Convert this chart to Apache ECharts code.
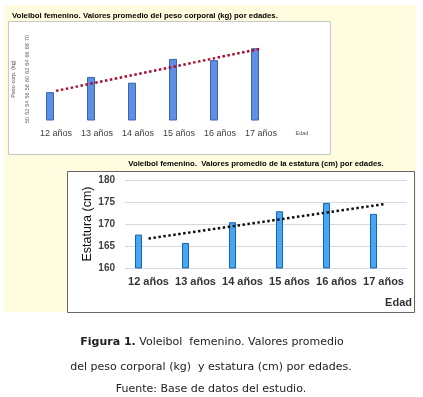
<!DOCTYPE html>
<html lang="es">
<head>
    <meta charset="UTF-8">
    <title>Voleibol femenino</title>
    <script src="https://cdn.jsdelivr.net/npm/echarts/dist/echarts.min.js"></script>
    <style>
        html, body { margin: 0; padding: 0; background: #fff; }
        #main { width: 423px; height: 397px; }
    </style>
</head>
<body>
    <div id="main"></div>

    <script>
        var chart = echarts.init(document.getElementById('main'));

        // categorias (edad)
        var edades = ['12 años', '13 años', '14 años', '15 años', '16 años', '17 años'];

        // peso corporal promedio (kg)
        var peso = [56.8, 60.5, 59.1, 64.9, 64.6, 67.5];
        // linea de tendencia: inicio y fin
        var pesoTendencia = [57.1, '-', '-', '-', '-', 67.4];

        // estatura promedio (cm)
        var estatura = [167.6, 165.7, 170.4, 172.9, 174.8, 172.3];
        var estaturaTendencia = [166.7, '-', '-', '-', '-', 174.5];

        var vacio = ['-', '-', '-', '-', '-', '-'];

        var option = {
            animation: false,
            textStyle: { fontFamily: 'Liberation Sans' },
            graphic: [
                // fondo amarillo
                { type: 'rect', z: -20, silent: true, shape: { x: 4, y: 5, width: 412, height: 307 }, style: { fill: '#FFFCE0' } },
                // caja del grafico superior
                { type: 'rect', z: -10, silent: true, shape: { x: 8.5, y: 21.5, width: 322, height: 133 }, style: { fill: '#fff', stroke: '#c8c8c8', lineWidth: 1 } },
                // caja del grafico inferior
                { type: 'rect', z: -10, silent: true, shape: { x: 67.5, y: 171.5, width: 347, height: 141 }, style: { fill: '#fff', stroke: '#666', lineWidth: 1 } },
                {
                    type: 'text', left: 12, top: 12, z: 10,
                    style: { text: 'Voleibol femenino. Valores promedio del peso corporal (kg) por edades.', fontSize: 7.8, fontWeight: 'bold', fill: '#000', fontFamily: 'Liberation Sans' }
                },
                {
                    type: 'text', x: 256, y: 164, z: 10,
                    style: { text: 'Voleibol femenino.  Valores promedio de la estatura (cm) por edades.', fontSize: 7.8, fontWeight: 'bold', fill: '#000', align: 'center', verticalAlign: 'middle', fontFamily: 'Liberation Sans' }
                },
                {
                    type: 'text', x: 302, y: 133, z: 10,
                    style: { text: 'Edad', fontSize: 5.5, fill: '#555', align: 'center', verticalAlign: 'middle', fontFamily: 'Liberation Sans' }
                },
                {
                    type: 'text', x: 412, y: 303, z: 10,
                    style: { text: 'Edad', fontSize: 11, fontWeight: 'bold', fill: '#333', align: 'right', verticalAlign: 'middle', fontFamily: 'Liberation Sans' }
                },
                // leyenda de la figura
                {
                    type: 'text', x: 212, y: 342, z: 10,
                    style: {
                        text: '{b|Figura 1.} Voleibol  femenino. Valores promedio',
                        fontSize: 11, fill: '#222', align: 'center', verticalAlign: 'middle', fontFamily: 'DejaVu Sans',
                        rich: { b: { fontSize: 11, fontWeight: 'bold', fill: '#222', fontFamily: 'DejaVu Sans' } }
                    }
                },
                {
                    type: 'text', x: 211, y: 367, z: 10,
                    style: { text: 'del peso corporal (kg)  y estatura (cm) por edades.', fontSize: 11, fill: '#222', align: 'center', verticalAlign: 'middle', fontFamily: 'DejaVu Sans' }
                },
                {
                    type: 'text', x: 211, y: 389, z: 10,
                    style: { text: 'Fuente: Base de datos del estudio.', fontSize: 11, fill: '#222', align: 'center', verticalAlign: 'middle', fontFamily: 'DejaVu Sans' }
                }
            ],
            grid: [
                { left: 35.5, right: 141.5, top: 38, bottom: 277 },
                { left: 125, right: 16, top: 180, bottom: 129 }
            ],
            xAxis: [
                {
                    type: 'category', gridIndex: 0, data: edades,
                    axisLine: { show: false }, axisTick: { show: false },
                    axisLabel: { fontSize: 9, color: '#404040', margin: 9, interval: 0 }
                },
                {
                    type: 'category', gridIndex: 1, data: edades,
                    axisLine: { show: false }, axisTick: { show: false },
                    axisLabel: { fontSize: 11, fontWeight: 'bold', color: '#333', margin: 8, interval: 0 }
                }
            ],
            yAxis: [
                {
                    type: 'value', gridIndex: 0, min: 50, max: 70, interval: 2,
                    name: 'Peso corp. (kg)', nameLocation: 'middle', nameRotate: 90, nameGap: 18,
                    nameTextStyle: { fontSize: 5.5, color: '#555' },
                    axisLine: { show: false }, axisTick: { show: false }, splitLine: { show: false },
                    axisLabel: { fontSize: 5.5, color: '#666', rotate: 90, margin: 5 }
                },
                {
                    type: 'value', gridIndex: 1, min: 160, max: 180, interval: 5,
                    name: 'Estatura (cm)', nameLocation: 'middle', nameRotate: 90, nameGap: 31,
                    nameMoveOverlap: false,
                    nameTextStyle: { fontSize: 12.5, color: '#111' },
                    axisLine: { show: false }, axisTick: { show: false },
                    splitLine: { lineStyle: { color: '#d9d9d9', width: 1 } },
                    axisLabel: { fontSize: 10, fontWeight: 'bold', color: '#404040', margin: 10 }
                }
            ],
            series: [
                {
                    type: 'bar', xAxisIndex: 0, yAxisIndex: 0, data: peso,
                    barWidth: 8, barGap: '50%',
                    itemStyle: { color: '#5E8FE4', borderColor: '#3A63B0', borderWidth: 1 }
                },
                { type: 'bar', xAxisIndex: 0, yAxisIndex: 0, data: vacio, barWidth: 8 },
                {
                    type: 'line', xAxisIndex: 0, yAxisIndex: 0, data: pesoTendencia,
                    connectNulls: true, symbol: 'none', z: 5,
                    lineStyle: { color: '#A8102E', width: 2.5, type: [2.5, 2.5] }
                },
                {
                    type: 'bar', xAxisIndex: 1, yAxisIndex: 1, data: estatura,
                    barWidth: 7, barGap: '185%',
                    itemStyle: { color: '#45A8F4', borderColor: '#1F5FA8', borderWidth: 1 }
                },
                { type: 'bar', xAxisIndex: 1, yAxisIndex: 1, data: vacio, barWidth: 7 },
                {
                    type: 'line', xAxisIndex: 1, yAxisIndex: 1, data: estaturaTendencia,
                    connectNulls: true, symbol: 'none', z: 5,
                    lineStyle: { color: '#111', width: 2.5, type: [2.5, 2.5] }
                }
            ]
        };

        chart.setOption(option);
    </script>
</body>
</html>
